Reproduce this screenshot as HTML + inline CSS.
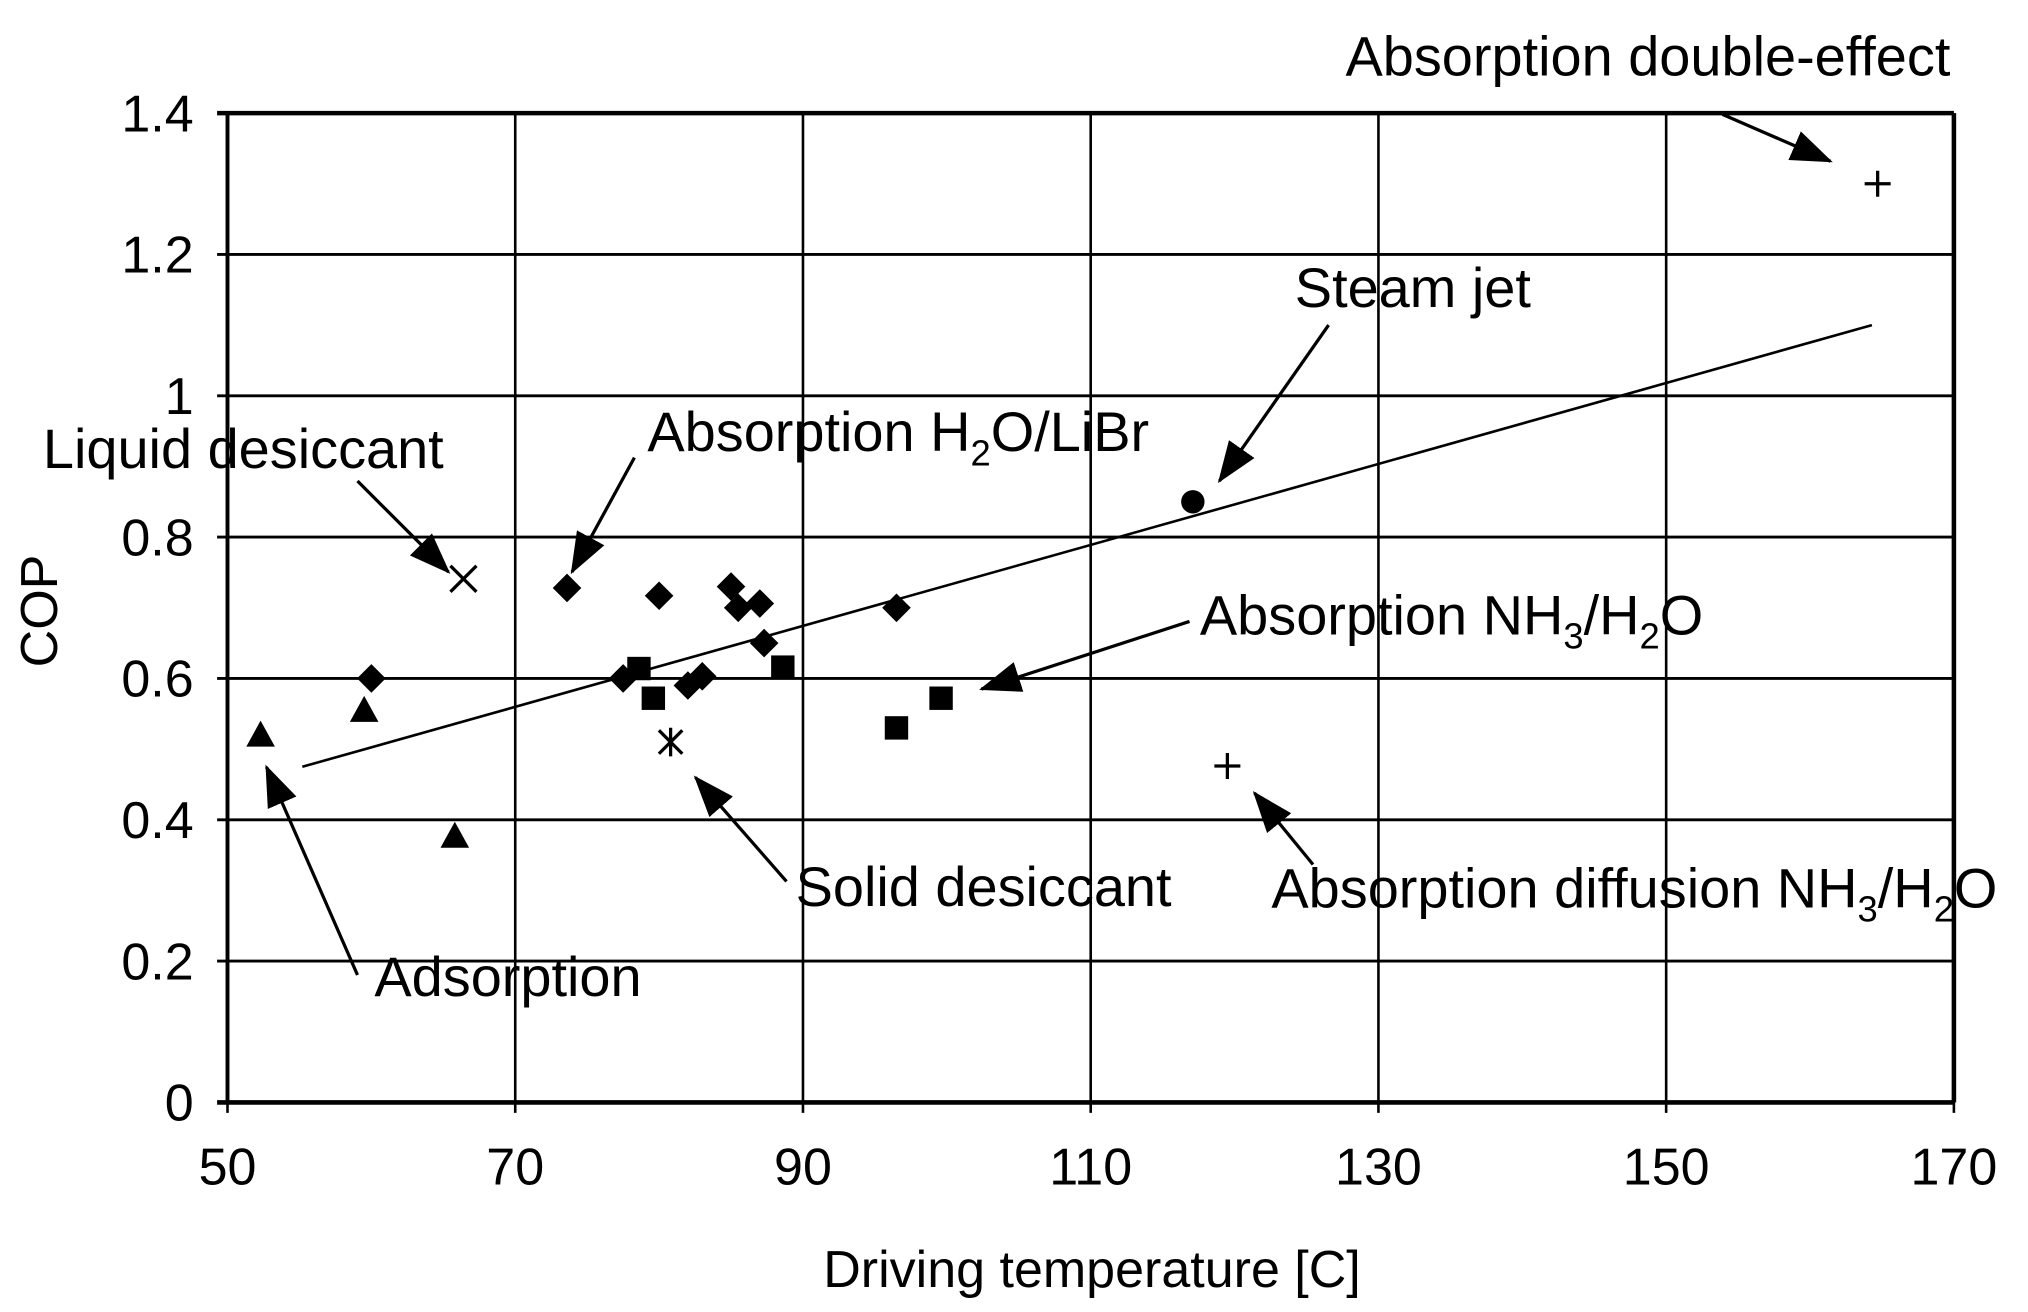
<!DOCTYPE html>
<html><head><meta charset="utf-8"><style>
html,body{margin:0;padding:0;background:#fff;}
svg{display:block;font-family:"Liberation Sans",Arial,sans-serif;}
</style></head><body>
<svg id="chart" width="2028" height="1312" viewBox="0 0 1560 1009.2" xmlns="http://www.w3.org/2000/svg">
<defs>
<marker id="ah2" markerWidth="32" markerHeight="24" refX="30" refY="12" orient="auto" markerUnits="userSpaceOnUse"><path d="M0,0 L32,12 L0,24 z" fill="#000"/></marker></defs>
<g id="grid"></g><g id="marks"></g><g id="ann"></g>
</svg>
<script>
const xTicks=[50,70,90,110,130,150,170];
const yTicks=[0,0.2,0.4,0.6,0.8,1,1.2,1.4];
const yTickLabels=["0","0.2","0.4","0.6","0.8","1","1.2","1.4"];
const diamondX=[73.6,80,85,85.5,87,87.3,77.5,60,82,83,96.5];
const diamondY=[0.728,0.717,0.73,0.70,0.706,0.65,0.60,0.60,0.59,0.603,0.70];
const squareX=[78.6,79.6,88.6,96.5,99.6];
const squareY=[0.614,0.572,0.616,0.53,0.572];
const triX=[52.3,59.5,65.8];
const triY=[0.52,0.555,0.377];
const circleX=[117.1];const circleY=[0.85];
const crossX=[66.4];const crossY=[0.741];
const starX=[80.8];const starY=[0.51];
const plusX=[119.5,164.7];const plusY=[0.476,1.30];
const trendX=[55.2,164.3];const trendY=[0.475,1.10];

const X0=175,X1=1503,Y0=848,Y1=87;
const xs=v=>X0+(v-50)/120*(X1-X0);
const ys=v=>Y0-v/1.4*(Y0-Y1);
const NS="http://www.w3.org/2000/svg";
function mk(parent,tag,attrs,name){const e=document.createElementNS(NS,tag);for(const k in attrs)e.setAttribute(k,attrs[k]);


document.getElementById(parent).appendChild(e);return e;}
xTicks.forEach(t=>{mk('grid','line',{x1:xs(t),x2:xs(t),y1:Y1,y2:Y0+8,stroke:'#000','stroke-width':2},'x-gridline');
const tx=mk('grid','text',{x:xs(t),y:Y0+63,'font-size':40,'text-anchor':'middle'},'x-tick-label');tx.textContent=t;});
yTicks.forEach((t,i)=>{mk('grid','line',{x1:X0-8,x2:X1,y1:ys(t),y2:ys(t),stroke:'#000','stroke-width':(t===0||t===1.4)?3.5:2.2},'y-gridline');
const tx=mk('grid','text',{x:X0-26,y:ys(t)+14,'font-size':40,'text-anchor':'end'},'y-tick-label');tx.textContent=yTickLabels[i];});
mk('grid','line',{x1:X1,x2:X1,y1:Y1,y2:Y0,stroke:'#000','stroke-width':3.5},'plot-border-right');
mk('grid','line',{x1:X0,x2:X0,y1:Y1,y2:Y0,stroke:'#000','stroke-width':3},'plot-border-left');
let t=mk('grid','text',{x:840,y:990,'font-size':40,'text-anchor':'middle'},'x-axis-title');t.textContent='Driving temperature [C]';
t=mk('grid','text',{x:0,y:0,'font-size':40,'text-anchor':'middle',transform:'translate(44,470) rotate(-90)'},'y-axis-title');t.textContent='COP';
mk('marks','line',{x1:xs(trendX[0]),y1:ys(trendY[0]),x2:xs(trendX[1]),y2:ys(trendY[1]),stroke:'#000','stroke-width':2},'trend-line');
diamondX.forEach((v,i)=>{const x=xs(v),y=ys(diamondY[i]);mk('marks','path',{d:`M${x},${y-11}L${x+11},${y}L${x},${y+11}L${x-11},${y}Z`,fill:'#000'},'point-absorption-libr');});
squareX.forEach((v,i)=>{const x=xs(v),y=ys(squareY[i]);mk('marks','rect',{x:x-9,y:y-9,width:18,height:18,fill:'#000'},'point-absorption-nh3');});
triX.forEach((v,i)=>{const x=xs(v),y=ys(triY[i]);mk('marks','path',{d:`M${x},${y-11}L${x+11},${y+9}L${x-11},${y+9}Z`,fill:'#000'},'point-adsorption');});
circleX.forEach((v,i)=>{mk('marks','circle',{cx:xs(v),cy:ys(circleY[i]),r:9,fill:'#000'},'point-steam-jet');});
crossX.forEach((v,i)=>{const x=xs(v),y=ys(crossY[i]);mk('marks','path',{d:`M${x-10},${y-10}L${x+10},${y+10}M${x+10},${y-10}L${x-10},${y+10}`,stroke:'#000','stroke-width':2.5},'point-liquid-desiccant');});
starX.forEach((v,i)=>{const x=xs(v),y=ys(starY[i]);mk('marks','path',{d:`M${x-9},${y-9}L${x+9},${y+9}M${x+9},${y-9}L${x-9},${y+9}M${x},${y-11}L${x},${y+11}`,stroke:'#000','stroke-width':2.5},'point-solid-desiccant');});
plusX.forEach((v,i)=>{const x=xs(v),y=ys(plusY[i]);mk('marks','path',{d:`M${x-10},${y}L${x+10},${y}M${x},${y-10}L${x},${y+10}`,stroke:'#000','stroke-width':2.5},'point-absorption-plus');});
const arrows=[[1325,88,1408,124],[1022,250,938,370],[488,352,440,440],[275,370,345,440],[915,478,755,530],[605,678,535,598],[1010,665,965,610],[275,750,205,590]];
arrows.forEach(a=>{mk('ann','line',{x1:a[0],y1:a[1],x2:a[2],y2:a[3],stroke:'#000','stroke-width':2.5,'marker-end':'url(#ah2)'},'annotation-arrow');});
const labels=[[1035,58,'Absorption double-effect'],[996,236,'Steam jet'],[33,360,'Liquid desiccant'],[612,697,'Solid desiccant'],[288,766,'Adsorption']];
labels.forEach(l=>{const e=mk('ann','text',{x:l[0],y:l[1],'font-size':43,textLength:'0'},'annotation-label');e.removeAttribute('textLength');e.textContent=l[2];});
let e=mk('ann','text',{x:498,y:347,'font-size':43},'annotation-label');e.innerHTML='Absorption H<tspan font-size="28" dy="11">2</tspan><tspan dy="-11">O/LiBr</tspan>';
e=mk('ann','text',{x:923,y:488,'font-size':43},'annotation-label');e.innerHTML='Absorption NH<tspan font-size="28" dy="11">3</tspan><tspan dy="-11">/H</tspan><tspan font-size="28" dy="11">2</tspan><tspan dy="-11">O</tspan>';
e=mk('ann','text',{x:978,y:698,'font-size':43},'annotation-label');e.innerHTML='Absorption diffusion NH<tspan font-size="28" dy="11">3</tspan><tspan dy="-11">/H</tspan><tspan font-size="28" dy="11">2</tspan><tspan dy="-11">O</tspan>';
</script>
</body></html>
